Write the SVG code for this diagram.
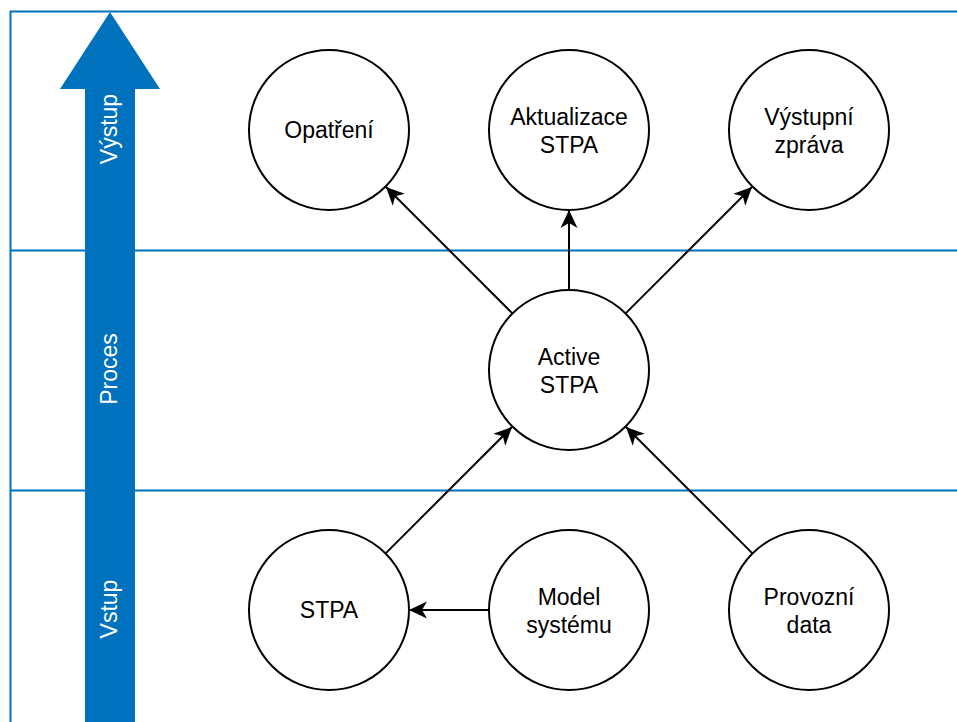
<svg xmlns="http://www.w3.org/2000/svg" width="957" height="722" viewBox="0 0 957 722">
  <style>
    .lane { fill: none; stroke: #0071bc; stroke-width: 2; }
    .node circle { fill: #ffffff; stroke: #000000; stroke-width: 2; }
    .node text { font-family: "Liberation Sans", Arial, sans-serif; font-size: 23px; fill: #000000; text-anchor: middle; }
    .edge { fill: none; stroke: #000000; stroke-width: 2; marker-end: url(#arrow); }
    .laneLabel { font-family: "Liberation Sans", Arial, sans-serif; font-size: 23px; fill: #ffffff; text-anchor: middle; }
  </style>
  <defs>
    <marker id="arrow" markerUnits="userSpaceOnUse" viewBox="-19 -10 21 20" refX="0" refY="0" markerWidth="21" markerHeight="20" orient="auto">
      <path d="M0,0 L-18,-8.5 L-13,0 L-18,8.5 Z" fill="#000000"/>
    </marker>
  </defs>
  <rect width="957" height="722" fill="#ffffff"/>

  <!-- swimlane frame -->
  <g id="lanes">
    <path class="lane" d="M970,11.5 H10.5 V740"/>
    <line class="lane" x1="10" y1="250.5" x2="970" y2="250.5"/>
    <line class="lane" x1="10" y1="490.5" x2="970" y2="490.5"/>
  </g>

  <!-- big upward arrow with lane titles -->
  <g id="flowArrow">
    <path d="M110,12 L160,89 L135,89 L135,730 L85,730 L85,89 L60,89 Z" fill="#0071bc"/>
    <text class="laneLabel" transform="translate(117,129) rotate(-90)">Výstup</text>
    <text class="laneLabel" transform="translate(117,369) rotate(-90)">Proces</text>
    <text class="laneLabel" transform="translate(117,609) rotate(-90)">Vstup</text>
  </g>

  <!-- connectors -->
  <g id="connectors">
    <line class="edge" x1="512.4" y1="313.4" x2="386" y2="187"/>
    <line class="edge" x1="569" y1="290" x2="569" y2="210"/>
    <line class="edge" x1="625.6" y1="313.4" x2="752" y2="187"/>
    <line class="edge" x1="385.6" y1="553.4" x2="512" y2="427"/>
    <line class="edge" x1="752.4" y1="553.4" x2="626" y2="427"/>
    <line class="edge" x1="489" y1="610" x2="409" y2="610"/>
  </g>

  <!-- output row -->
  <g id="opatreni" class="node">
    <circle cx="329" cy="130" r="80"/>
    <text x="329" y="138">Opatření</text>
  </g>
  <g id="aktualizace" class="node">
    <circle cx="569" cy="130" r="80"/>
    <text x="569" y="125">Aktualizace</text>
    <text x="569" y="153">STPA</text>
  </g>
  <g id="vystupniZprava" class="node">
    <circle cx="809" cy="130" r="80"/>
    <text x="809" y="125">Výstupní</text>
    <text x="809" y="153">zpráva</text>
  </g>

  <!-- process row -->
  <g id="activeStpa" class="node">
    <circle cx="569" cy="370" r="80"/>
    <text x="569" y="365">Active</text>
    <text x="569" y="393">STPA</text>
  </g>

  <!-- input row -->
  <g id="stpa" class="node">
    <circle cx="329" cy="610" r="80"/>
    <text x="329" y="618">STPA</text>
  </g>
  <g id="modelSystemu" class="node">
    <circle cx="569" cy="610" r="80"/>
    <text x="569" y="605">Model</text>
    <text x="569" y="633">systému</text>
  </g>
  <g id="provozniData" class="node">
    <circle cx="809" cy="610" r="80"/>
    <text x="809" y="605">Provozní</text>
    <text x="809" y="633">data</text>
  </g>
</svg>
